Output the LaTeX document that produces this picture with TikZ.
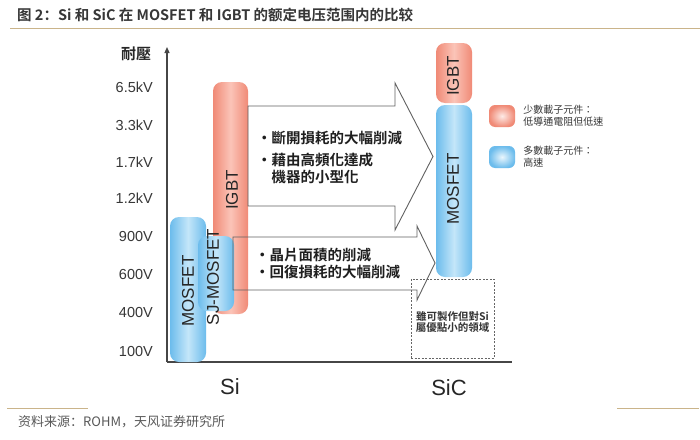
\documentclass[tikz,border=0pt]{standalone}
\usepackage{fontspec}
\setmainfont{Liberation Sans}
\newfontfamily\tcfont{Noto Sans CJK TC}[BoldFont={Noto Sans CJK TC Bold}]
\newfontfamily\scfont{Noto Sans CJK SC}[BoldFont={Noto Sans CJK SC Bold}]
\definecolor{igbtred}{RGB}{240,138,118}
\definecolor{igbtlight}{RGB}{251,196,184}
\definecolor{mosblue}{RGB}{108,188,236}
\definecolor{moslight}{RGB}{196,230,249}
\definecolor{ruletan}{RGB}{202,180,138}
\definecolor{axisgray}{RGB}{70,70,70}
\definecolor{txtgray}{RGB}{55,55,55}
\usetikzlibrary{arrows.meta,positioning}

\begin{document}
\begin{tikzpicture}[x=1pt,y=-1pt,
  bar/.style={rounded corners=9pt,minimum width=36pt,inner sep=0pt},
  igbtbar/.style={bar,left color=igbtred,right color=igbtred,middle color=igbtlight},
  mosbar/.style={bar,left color=mosblue,right color=mosblue,middle color=moslight},
  devlab/.style={rotate=90,inner sep=0pt,text=black!85,font=\fontsize{17}{17}\selectfont},
  tick/.style={anchor=east,inner sep=0pt,text=txtgray,font=\fontsize{14.5}{14.5}\selectfont},
  outline/.style={draw=black!62,line width=0.9pt,line join=miter},
  gain/.style={anchor=west,inner sep=0pt,align=left,text=black!88,
    font=\tcfont\bfseries\fontsize{14.5}{17}\selectfont},
  key/.style={rounded corners=6pt,minimum width=26pt,minimum height=22pt,inner sep=0pt},
  keytext/.style={anchor=west,inner sep=0pt,align=left,text=txtgray,
    font=\tcfont\fontsize{10}{12}\selectfont},
  rule/.style={draw=ruletan,line width=1pt},
  axis/.style={draw=axisgray,line width=1.2pt}
]
  \fill[white] (0,0) rectangle (700,439);
  \useasboundingbox (0,0) rectangle (700,439);

  % Title
  \node[anchor=west,inner sep=0pt,text=txtgray,font=\scfont\bfseries\fontsize{14.5}{14.5}\selectfont]
    (title) at (17,15) {图 2：Si 和 SiC 在 MOSFET 和 IGBT 的额定电压范围内的比较};
  \coordinate (topL) at (10,28);
  \coordinate (topR) at (700,28);
  \draw[rule] (topL) -- (topR);

  % Axes
  \coordinate (origin) at (167,362);
  \coordinate (ytop) at (167,47);
  \coordinate (xend) at (512,362);
  \draw[axis,-{Triangle[length=6pt,width=5pt]}] (origin) -- (ytop);
  \draw[axis] (origin) -- (xend);
  \node[inner sep=0pt,text=black!85,font=\tcfont\bfseries\fontsize{15}{15}\selectfont]
    (ylab) at (136,54) {耐壓};
  \foreach \lab/\yy in {6.5kV/87,3.3kV/125,1.7kV/162,1.2kV/198,900V/237,600V/275,400V/313,100V/352}
    \node[tick] (t\yy) at (153,\yy) {\lab};
  \node[text=black!85,font=\fontsize{22}{22}\selectfont] (si) at (230,387) {Si};
  \node[text=black!85,font=\fontsize{22}{22}\selectfont] (sic) at (449,388) {SiC};

  % Si devices
  \node[mosbar,minimum height=145pt] (simos) at (188,289.5) {};
  \node[igbtbar,minimum width=35pt,minimum height=232pt] (siigbt) at (230.5,198) {};
  \node[mosbar,minimum height=75pt] (sjmos) at (216,273.5) {};
  \node[devlab] (simoslab) at (188,291) {MOSFET};
  \node[devlab] (siigbtlab) at (232,190) {IGBT};
  \node[devlab] (sjmoslab) at (213,277) {SJ-MOSFET};

  % SiC devices
  \node[igbtbar,minimum height=60pt] (sicigbt) at (454,73) {};
  \node[mosbar,minimum height=172pt] (sicmos) at (454,191) {};
  \node[devlab] (sicigbtlab) at (453,76) {IGBT};
  \node[devlab] (sicmoslab) at (453,189) {MOSFET};

  % Block arrows
  \draw[outline] (248,106) -- (395,106) -- (395,83) -- (433,156.5) -- (395,230)
    -- (395,206) -- (248,206) -- cycle;
  \draw[outline] (233,237) -- (417,237) -- (417,226) -- (435,263) -- (417,300)
    -- (417,290) -- (233,290) -- cycle;
  \node[gain] (upgain) at (257,157.5)
    {・斷開損耗的大幅削減\\[5pt]・藉由高頻化達成\\\hspace*{1em}機器的小型化};
  \node[gain] (lowgain) at (255,263.5) {・晶片面積的削減\\・回復損耗的大幅削減};

  % Region with little merit
  \node[draw=black!60,dash pattern=on 2pt off 1.5pt,line width=0.7pt,
    minimum width=83pt,minimum height=79pt,inner sep=0pt] (gap) at (452.5,318.5) {};
  \node[inner sep=0pt,align=center,text=black!80,
    font=\tcfont\bfseries\fontsize{10.5}{11}\selectfont] (gaptext) at (452.5,322)
    {雖可製作但對Si\\屬優點小的領域};

  % Legend
  \node[key,inner color=igbtlight!35!white,outer color=igbtred] (keyigbt) at (502,116) {};
  \node[key,inner color=moslight!35!white,outer color=mosblue] (keymos) at (502,157) {};
  \node[keytext,right=8pt of keyigbt] (keyigbttext) {少數載子元件：\\低導通電阻但低速};
  \node[keytext,right=8pt of keymos] (keymostext) {多數載子元件：\\高速};

  % Source
  \coordinate (botL1) at (7,408);
  \coordinate (botL2) at (88,408);
  \coordinate (botR1) at (617,408);
  \coordinate (botR2) at (699,408);
  \draw[rule] (botL1) -- (botL2);
  \draw[rule] (botR1) -- (botR2);
  \node[anchor=west,inner sep=0pt,text=black!65,font=\scfont\fontsize{13}{13}\selectfont]
    (source) at (18,422) {资料来源：ROHM，天风证券研究所};
\end{tikzpicture}
\end{document}
